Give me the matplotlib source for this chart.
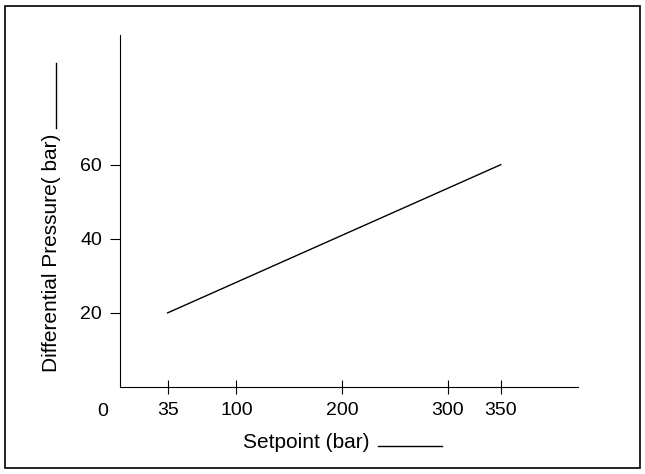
import matplotlib
matplotlib.use("Agg")
import matplotlib.pyplot as plt
from matplotlib.lines import Line2D
from matplotlib.patches import Rectangle

# data
setpoint = [35, 350]
diff_pressure = [20, 60]
x_ticks = [35, 100, 200, 300, 350]
y_ticks = [20, 40, 60]

plt.rcParams['font.family'] = ['Liberation Sans', 'DejaVu Sans']

W, H = 645, 474
fig = plt.figure(figsize=(W / 100, H / 100), dpi=100)

# outer frame
fig.patches.append(Rectangle((5 / W, 6 / H), 635 / W, 462 / H, transform=fig.transFigure,
                             fill=False, edgecolor='black', linewidth=1.2))

ax = fig.add_axes([120 / W, 87 / H, 458 / W, 352 / H])
ax.plot(setpoint, diff_pressure, color='black', linewidth=1)
ax.set_xlim(-10, 423)
ax.set_ylim(0, 95)
ax.set_xticks(x_ticks)
ax.set_yticks(y_ticks)
ax.tick_params(axis='x', direction='inout', length=10, labelsize=14, pad=6)
ax.tick_params(axis='y', direction='out', length=7, labelsize=14, pad=6)
for s in ['top', 'right']:
    ax.spines[s].set_visible(False)
ax.patch.set_alpha(0)

# "0" at origin
fig.text(103 / W, 1 - 411 / H, '0', fontsize=14, ha='center', va='center')

# x label with trailing line
fig.text(306 / W, 1 - 443 / H, 'Setpoint (bar)', fontsize=15, ha='center', va='center')
fig.lines.append(Line2D([378 / W, 442 / W], [1 - 446 / H, 1 - 446 / H],
                        transform=fig.transFigure, color='black', linewidth=1))

# y label with line above
fig.text(52 / W, 1 - 253 / H, 'Differential Pressure( bar)', fontsize=15,
         rotation=90, ha='center', va='center')
fig.lines.append(Line2D([56 / W, 56 / W], [1 - 63 / H, 1 - 128 / H],
                        transform=fig.transFigure, color='black', linewidth=1))

fig.savefig('out.png', dpi=100)
